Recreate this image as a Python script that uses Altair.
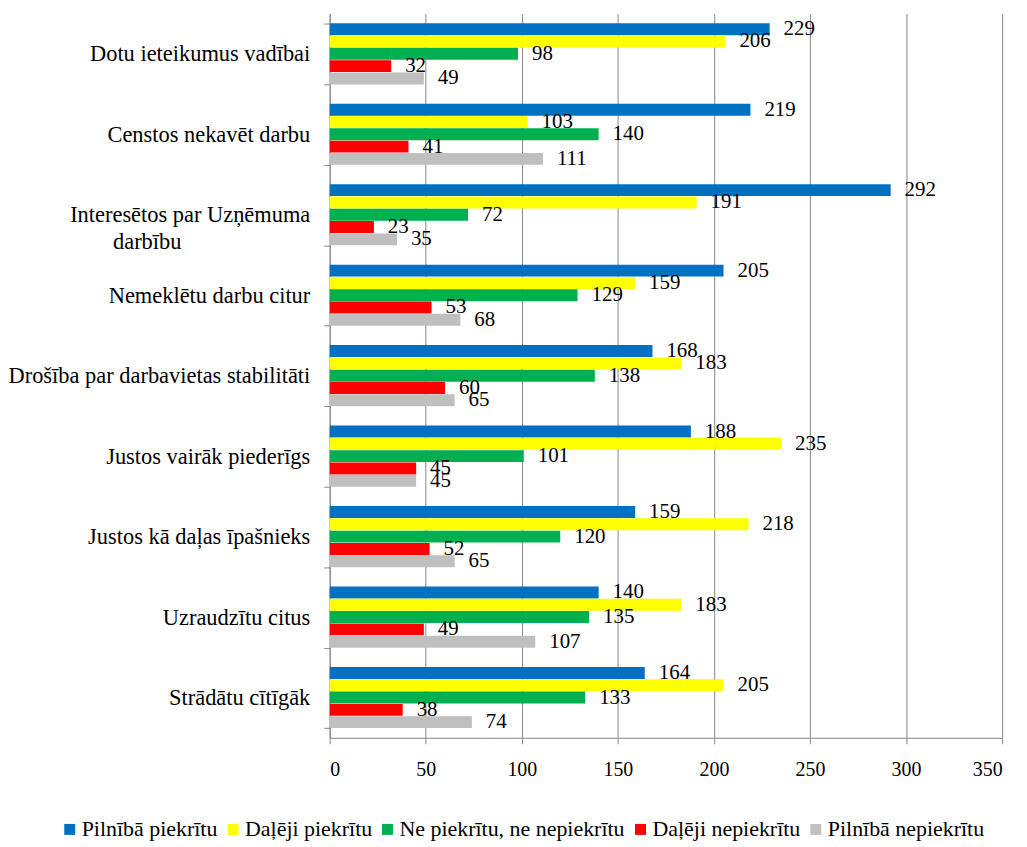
import altair as alt
import pandas as pd

categories = [
    "Dotu ieteikumus vadībai",
    "Censtos nekavēt darbu",
    "Interesētos par Uzņēmuma darbību",
    "Nemeklētu darbu citur",
    "Drošība par darbavietas stabilitāti",
    "Justos vairāk piederīgs",
    "Justos kā daļas īpašnieks",
    "Uzraudzītu citus",
    "Strādātu cītīgāk",
]

series = [
    "Pilnībā piekrītu",
    "Daļēji piekrītu",
    "Ne piekrītu, ne nepiekrītu",
    "Daļēji nepiekrītu",
    "Pilnībā nepiekrītu",
]
colors = ["#0070C0", "#FFFF00", "#00B050", "#FF0000", "#BFBFBF"]

pilniba_piekritu = [229, 219, 292, 205, 168, 188, 159, 140, 164]
daleji_piekritu = [206, 103, 191, 159, 183, 235, 218, 183, 205]
neitrali = [98, 140, 72, 129, 138, 101, 120, 135, 133]
daleji_nepiekritu = [32, 41, 23, 53, 60, 45, 52, 49, 38]
pilniba_nepiekritu = [49, 111, 35, 68, 65, 45, 65, 107, 74]

x_ticks = [0, 50, 100, 150, 200, 250, 300, 350]

columns = [pilniba_piekritu, daleji_piekritu, neitrali, daleji_nepiekritu, pilniba_nepiekritu]
rows = []
for s, vals in zip(series, columns):
    for c, v in zip(categories, vals):
        rows.append({"category": c, "series": s, "value": v})
df = pd.DataFrame(rows)

FONT = "Liberation Serif"
GRID = "#868686"

# second line of the long category label is centred under the first one
second_line = "darbību" + "\u00a0" * 23 + "\u200b"
label_expr = (
    "datum.label == 'Interesētos par Uzņēmuma darbību' ? "
    "['Interesētos par Uzņēmuma', '" + second_line + "'] : datum.label"
)

y_enc = alt.Y(
    "category:N",
    sort=categories,
    scale=alt.Scale(paddingInner=0.24, paddingOuter=0.12),
    axis=alt.Axis(
        title=None,
        tickBand="extent",
        tickSize=6,
        tickColor=GRID,
        domainColor=GRID,
        labelFont=FONT,
        labelFontSize=22.5,
        labelColor="black",
        labelPadding=14,
        labelLimit=400,
        labelLineHeight=27,
        labelExpr=label_expr,
    ),
)
yoff_enc = alt.YOffset("series:N", sort=series, scale=alt.Scale(paddingInner=0.03))
x_enc = alt.X(
    "value:Q",
    scale=alt.Scale(domain=[0, 350], nice=False),
    axis=alt.Axis(
        title=None,
        values=x_ticks,
        grid=True,
        gridColor=GRID,
        gridWidth=1,
        tickColor=GRID,
        tickSize=6,
        domainColor=GRID,
        labelFont=FONT,
        labelFontSize=20,
        labelColor="black",
        labelPadding=16,
    ),
)

bars = alt.Chart(df).mark_bar().encode(
    y=y_enc,
    yOffset=yoff_enc,
    x=x_enc,
    color=alt.Color(
        "series:N",
        sort=series,
        scale=alt.Scale(domain=series, range=colors),
        legend=alt.Legend(
            title=None,
            orient="none",
            legendX=-272,
            legendY=808,
            direction="horizontal",
            columns=5,
            symbolType="square",
            symbolSize=121,
            symbolStrokeWidth=0,
            labelFont=FONT,
            labelFontSize=22,
            labelColor="black",
            columnPadding=4,
            labelOffset=1,
            labelLimit=300,
        ),
    ),
)

labels = alt.Chart(df).mark_text(
    align="left", baseline="middle", dx=14, font=FONT, fontSize=21, color="black"
).encode(
    y=alt.Y("category:N", sort=categories),
    yOffset=alt.YOffset("series:N", sort=series),
    x=alt.X("value:Q"),
    text=alt.Text("value:Q"),
)

chart = (
    alt.layer(bars, labels)
    .properties(
        width=675,
        height=727,
        background="white",
        padding={"left": 7, "top": 1, "right": 24, "bottom": 3},
    )
    .configure(font=FONT)
    .configure_legend(labelFont=FONT)
    .configure_view(stroke=None)
)

chart.save("out.html", embed_options={"renderer": "svg", "actions": False})
